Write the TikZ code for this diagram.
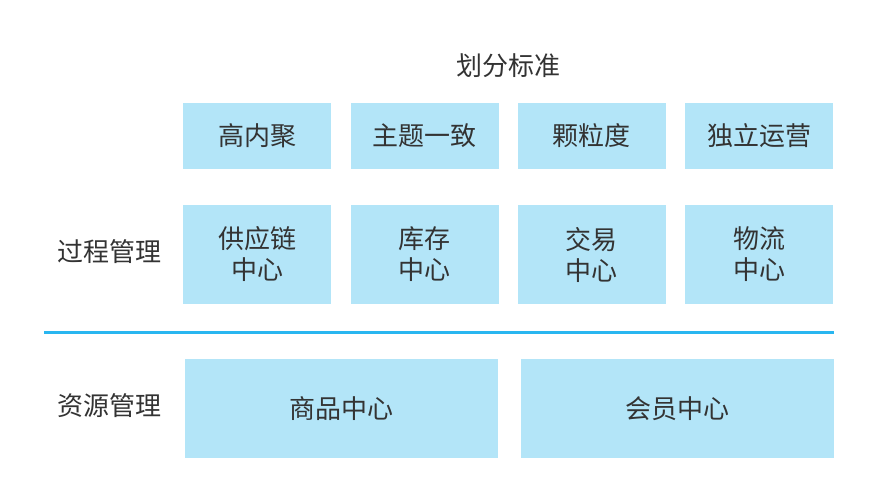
\documentclass[tikz,border=0pt]{standalone}
\usepackage{fontspec}
\setmainfont{Noto Sans CJK SC}
\usetikzlibrary{positioning}
\definecolor{cellblue}{RGB}{179,229,248}
\definecolor{lineblue}{RGB}{41,182,240}
\definecolor{textgray}{RGB}{51,51,51}
\tikzset{
  cell/.style={fill=cellblue, draw=none, text=textgray, align=center,
    font=\fontsize{26}{31}\selectfont, inner sep=0pt},
  small cell/.style={cell, minimum width=148pt},
  wide cell/.style={cell, minimum width=313pt, minimum height=99pt},
  side label/.style={text=textgray, font=\fontsize{26}{31}\selectfont}
}

\begin{document}
\begin{tikzpicture}[x=1pt, y=-1pt]
  \useasboundingbox[fill=white] (0,0) rectangle (886,494);
  % title
  \node[side label] (title) at (508,66) {划分标准};
  % criteria row
  \node[small cell, minimum height=66pt] (gaoneiju) at (257,136) {高内聚};
  \node[small cell, minimum height=66pt] (zhuti) at (424.5,136) {主题一致};
  \node[small cell, minimum height=66pt] (keli) at (591.5,136) {颗粒度};
  \node[small cell, minimum height=66pt] (duli) at (759,136) {独立运营};
  % process row
  \node[side label] (guocheng) at (109,252) {过程管理};
  \node[small cell, minimum height=99pt] (gongying) at (257,254.5) {供应链\\中心};
  \node[small cell, minimum height=99pt] (kucun) at (424.5,254.5) {库存\\中心};
  \node[small cell, minimum height=99pt] (jiaoyi) at (591.5,254.5) {交易\\中心};
  \node[small cell, minimum height=99pt] (wuliu) at (759,254.5) {物流\\中心};
  % divider
  \coordinate (divl) at (44,332);
  \coordinate (divr) at (834,332);
  \draw[lineblue, line width=3pt] (divl) -- (divr);
  % resource row
  \node[side label] (ziyuan) at (109,406) {资源管理};
  \node[wide cell] (shangpin) at (341.5,408.5) {商品中心};
  \node[wide cell] (huiyuan) at (677,408.5) {会员中心};
\end{tikzpicture}
\end{document}
